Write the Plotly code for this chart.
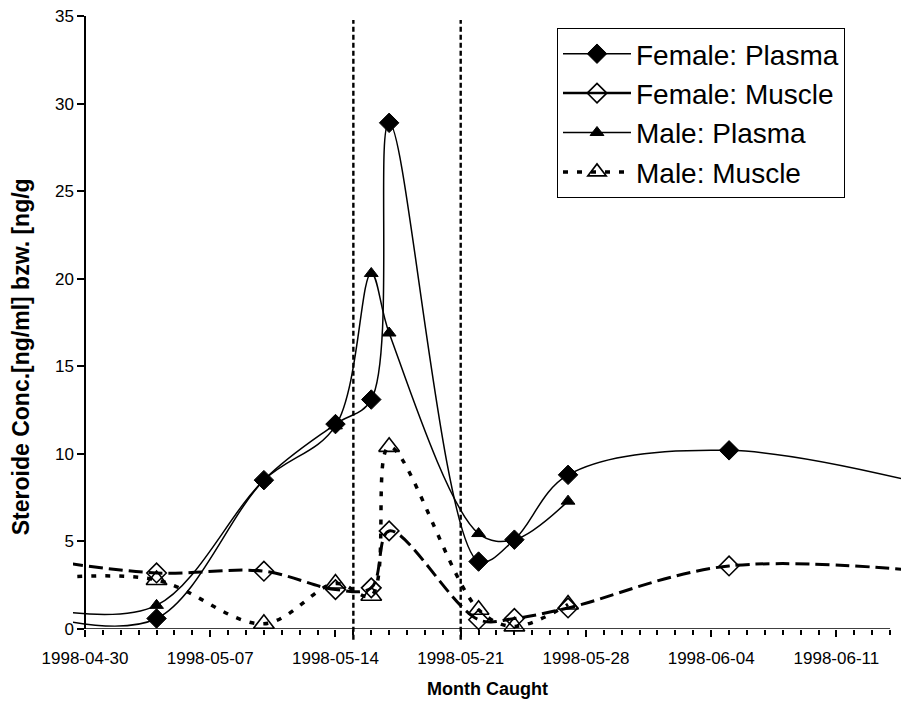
import plotly.graph_objects as go
import pandas as pd

# ---------------- data ----------------
female_dates = ['1998-04-28', '1998-05-04', '1998-05-10', '1998-05-14', '1998-05-16',
                '1998-05-17', '1998-05-22', '1998-05-24', '1998-05-27', '1998-06-05', '1998-06-20']
female_plasma = [0.65, 0.6, 8.5, 11.7, 13.1, 28.9, 3.85, 5.1, 8.8, 10.2, 7.2]
female_muscle = [3.9, 3.2, 3.3, 2.25, 2.35, 5.6, 0.53, 0.6, 1.2, 3.6, 2.9]

male_dates = ['1998-04-28', '1998-05-04', '1998-05-10', '1998-05-14', '1998-05-16',
              '1998-05-17', '1998-05-22', '1998-05-24', '1998-05-27']
male_plasma = [1.1, 1.35, 8.5, 11.6, 20.3, 16.9, 5.45, 5.1, 7.3]
male_muscle = [2.9, 2.8, 0.3, 2.6, 1.9, 10.4, 1.1, 0.15, 1.4]

period_bounds = ['1998-05-15', '1998-05-21']

series_names = ['Female: Plasma', 'Female: Muscle', 'Male: Plasma', 'Male: Muscle']

x_range = ['1998-04-29 07:54', '1998-06-14 14:40']
axis_start = '1998-04-30'
axis_end = '1998-06-14'
y_ticks = [0, 5, 10, 15, 20, 25, 30, 35]

# ---------------- styles ----------------
styles = {
    'Female: Plasma': dict(line=dict(color='black', width=1.5),
                           marker=dict(symbol='diamond', size=15, color='black',
                                       line=dict(color='black', width=1))),
    'Female: Muscle': dict(line=dict(color='black', width=3, dash='14px,6px'),
                           marker=dict(symbol='diamond-open', size=15, color='black',
                                       line=dict(color='black', width=1.6))),
    'Male: Plasma': dict(line=dict(color='black', width=1.5),
                         marker=dict(symbol='triangle-up', size=12, color='black',
                                     line=dict(color='black', width=1))),
    'Male: Muscle': dict(line=dict(color='black', width=3.5, dash='5px,9px'),
                         marker=dict(symbol='triangle-up-open', size=18, color='black',
                                     line=dict(color='black', width=1.6))),
}
legend_lines = {
    'Female: Plasma': dict(color='black', width=1.5),
    'Female: Muscle': dict(color='black', width=2.5),
    'Male: Plasma': dict(color='black', width=1.5),
    'Male: Muscle': dict(color='black', width=3.5, dash='5px,9px'),
}

data = {
    'Female: Plasma': (female_dates, female_plasma),
    'Female: Muscle': (female_dates, female_muscle),
    'Male: Plasma': (male_dates, male_plasma),
    'Male: Muscle': (male_dates, male_muscle),
}

lo, hi = pd.Timestamp(x_range[0]), pd.Timestamp(x_range[1])

fig = go.Figure()
# lines (including points outside the visible range so curves run to the edges)
for name in series_names:
    d, v = data[name]
    fig.add_trace(go.Scatter(x=d, y=v, mode='lines', line=styles[name]['line'],
                             line_shape='spline', line_smoothing=1,
                             showlegend=False, hoverinfo='skip'))
# markers (only visible points)
for name in series_names:
    d, v = data[name]
    pts = [(a, b) for a, b in zip(d, v) if lo <= pd.Timestamp(a) <= hi]
    fig.add_trace(go.Scatter(x=[p[0] for p in pts], y=[p[1] for p in pts], mode='markers',
                             marker=styles[name]['marker'], cliponaxis=False,
                             showlegend=False, name=name))
# legend entries
for i, name in enumerate(series_names):
    fig.add_trace(go.Scatter(x=[None], y=[None], mode='lines+markers', name=name,
                             line=legend_lines[name], marker=styles[name]['marker'],
                             legendgroup=str(i), showlegend=True))

# vertical period lines
for b in period_bounds:
    fig.add_shape(type='line', xref='x', yref='paper', x0=b, x1=b, y0=-0.0174, y1=0.9935,
                  line=dict(color='black', width=2.4, dash='5px,3px'), layer='above')
# x axis line
fig.add_shape(type='line', xref='x', yref='y', x0=axis_start, x1=axis_end, y0=0, y1=0,
              line=dict(color='black', width=1.5), layer='above')

plot_w = 901 - 73
fig.update_layout(
    width=901, height=704,
    margin=dict(l=73, r=0, t=16, b=75, autoexpand=False),
    plot_bgcolor='white', paper_bgcolor='white',
    font=dict(family='Liberation Sans, Arial, sans-serif', size=17, color='black'),
    xaxis=dict(type='date', range=x_range, tickmode='linear', tick0=axis_start,
               dtick=7 * 86400000, tickformat='%Y-%m-%d', ticks='outside', ticklen=7,
               tickwidth=1.5, tickcolor='black', showgrid=False, zeroline=False,
               showline=False, ticklabelstandoff=7, automargin=False,
               minor=dict(dtick=86400000, tick0=axis_start, ticks='outside', ticklen=5,
                          tickwidth=1.5, tickcolor='black', showgrid=False)),
    yaxis=dict(range=[0, 35], tickmode='array', tickvals=y_ticks, ticks='outside', ticklen=7,
               tickwidth=1.5, tickcolor='black', showline=True, linewidth=1.5,
               linecolor='black', anchor='free', position=12 / plot_w, automargin=False,
               showgrid=False, zeroline=False),
    legend=dict(x=(557 - 73) / plot_w, y=(629.3 - 28) / 613.3, xanchor='left', yanchor='top',
                bordercolor='black', borderwidth=1, bgcolor='white',
                font=dict(size=28, color='black'), itemwidth=68,
                traceorder='grouped', tracegroupgap=0),
    annotations=[
        dict(text='<b>Month Caught</b>', xref='paper', yref='paper', x=0.5, y=-0.0973,
             xanchor='center', yanchor='middle', showarrow=False,
             font=dict(size=18, color='black')),
        dict(text='<b>Steroide Conc.[ng/ml] bzw. [ng/g</b>', xref='paper', yref='paper',
             x=(21 - 73) / plot_w, y=(629.3 - 538) / 613.3, xanchor='center', yanchor='bottom',
             textangle=-90, showarrow=False, font=dict(size=23, color='black')),
    ],
)

fig.write_html('out.html', config={'displayModeBar': False},
               post_script="document.body.style.margin='0px';")
